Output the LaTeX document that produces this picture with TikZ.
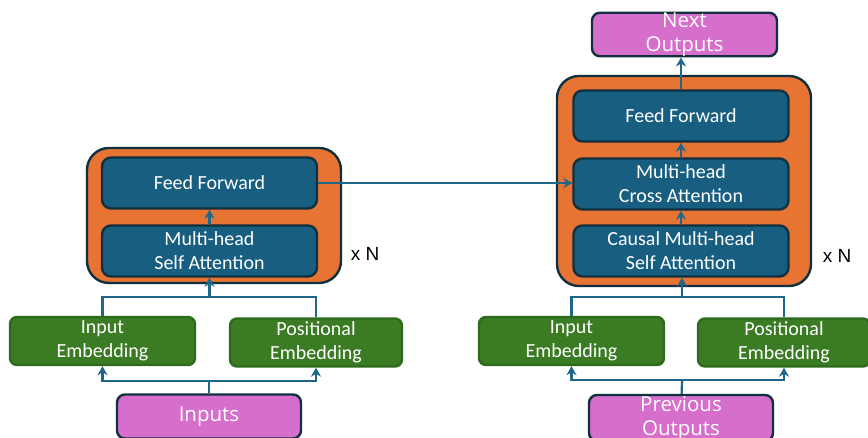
\documentclass[tikz,border=0pt]{standalone}
\usepackage{fontspec}
\setmainfont{Carlito}
\newfontfamily\repfont{Liberation Sans}
\newfontfamily\iofont{Open Sans}
\usepackage{xcolor}
\usepackage{tikz}
\usetikzlibrary{arrows.meta}
\usetikzlibrary{positioning}
\definecolor{stackorange}{HTML}{E87433}
\definecolor{layerblue}{HTML}{185E80}
\definecolor{edgedark}{HTML}{11303F}
\definecolor{embgreen}{HTML}{3B7B24}
\definecolor{embedge}{HTML}{2C6A1C}
\definecolor{iopink}{HTML}{D66FCB}
\definecolor{wireblue}{HTML}{1F6788}
\tikzstyle{stack} = [rectangle, rounded corners=22pt, minimum width=254pt, draw=edgedark, line width=2.4pt, fill=stackorange]
\tikzstyle{layer} = [rectangle, rounded corners=9pt, minimum width=215pt, minimum height=51pt, inner sep=0pt, align=center, text=white, font=\fontsize{20}{24}\selectfont, draw=edgedark, line width=2.4pt, fill=layerblue]
\tikzstyle{emb} = [rectangle, rounded corners=7pt, minimum height=48pt, inner sep=0pt, align=center, text=white, font=\fontsize{20}{24}\selectfont, draw=embedge, line width=2.4pt, fill=embgreen]
\tikzstyle{io} = [rectangle, rounded corners=8pt, minimum width=184pt, minimum height=44pt, inner sep=0pt, align=center, text=white, font=\iofont\fontsize{20.5}{24}\selectfont, draw=edgedark, line width=2.4pt, fill=iopink]
\tikzstyle{arrow} = [line width=2.2pt, draw=wireblue, ->, >={Stealth[length=9pt, width=10pt]}]
\tikzstyle{line} = [line width=2.2pt, draw=wireblue, -]
\tikzstyle{reps} = [font=\repfont\fontsize{19}{22}\selectfont, text=black]

\begin{document}
\begin{tikzpicture}[x=1pt, y=1pt]
    \useasboundingbox (0,0) rectangle (868,438);
    % encoder
    \node(encstack)[stack, minimum height=135pt] at (214,222.5) {};
    \node(encff)[layer] at (209.5,255) {Feed Forward};
    \node(encsa)[layer, node distance=68pt, below of=encff] {Multi-head\\Self Attention};
    \node(encemb)[emb, minimum width=185pt] at (102.5,97) {Input\\Embedding};
    \node(encpos)[emb, minimum width=172pt] at (316,95.5) {Positional\\Embedding};
    \node(input)[io] at (209,21.5) {Inputs};
    \node(encrep)[reps] at (365,184) {x N};
    % decoder
    \node(decstack)[stack, minimum height=210pt] at (684,257) {};
    \node(decff)[layer] at (681,322) {Feed Forward};
    \node(deccross)[layer, node distance=68pt, below of=decff] {Multi-head\\Cross Attention};
    \node(deccausal)[layer, node distance=67pt, below of=deccross] {Causal Multi-head\\Self Attention};
    \node(decemb)[emb, minimum width=185pt] at (571.5,97) {Input\\Embedding};
    \node(decpos)[emb, minimum width=172pt] at (784,95.5) {Positional\\Embedding};
    \node(prevout)[io, minimum height=46pt] at (681,20) {Previous\\Outputs};
    \node(nextout)[io, minimum width=185pt, minimum height=43pt] at (684.5,403.5) {Next\\Outputs};
    \node(decrep)[reps] at (837,182) {x N};
    % joins and splits
    \coordinate(encjoin) at (209.5,141);
    \coordinate(encsplit) at (209,57);
    \coordinate(decjoin) at (682,141);
    \coordinate(decsplit) at (682,58);
    % encoder wiring
    \draw[line](input)--(encsplit);
    \draw[arrow](encsplit)-|(encemb.south);
    \draw[arrow](encsplit)-|(encpos.south);
    \draw[line](encemb.north)|-(encjoin)-|(encpos.north);
    \draw[arrow](encjoin)--(encjoin |- encsa.south);
    \draw[arrow](encsa)--(encff);
    % decoder wiring
    \draw[line](prevout)--(decsplit);
    \draw[arrow](decsplit)-|(decemb.south);
    \draw[arrow](decsplit)-|(decpos.south);
    \draw[line](decemb.north)|-(decjoin)-|(decpos.north);
    \draw[arrow](decjoin)--(decjoin |- deccausal.south);
    \draw[arrow](deccausal)--(deccross);
    \draw[arrow](deccross)--(decff);
    \draw[arrow](decff.north)--(decff.north |- nextout.south);
    % encoder output into cross attention
    \draw[arrow](encff.east)--(encff.east -| deccross.west);
\end{tikzpicture}
\end{document}
